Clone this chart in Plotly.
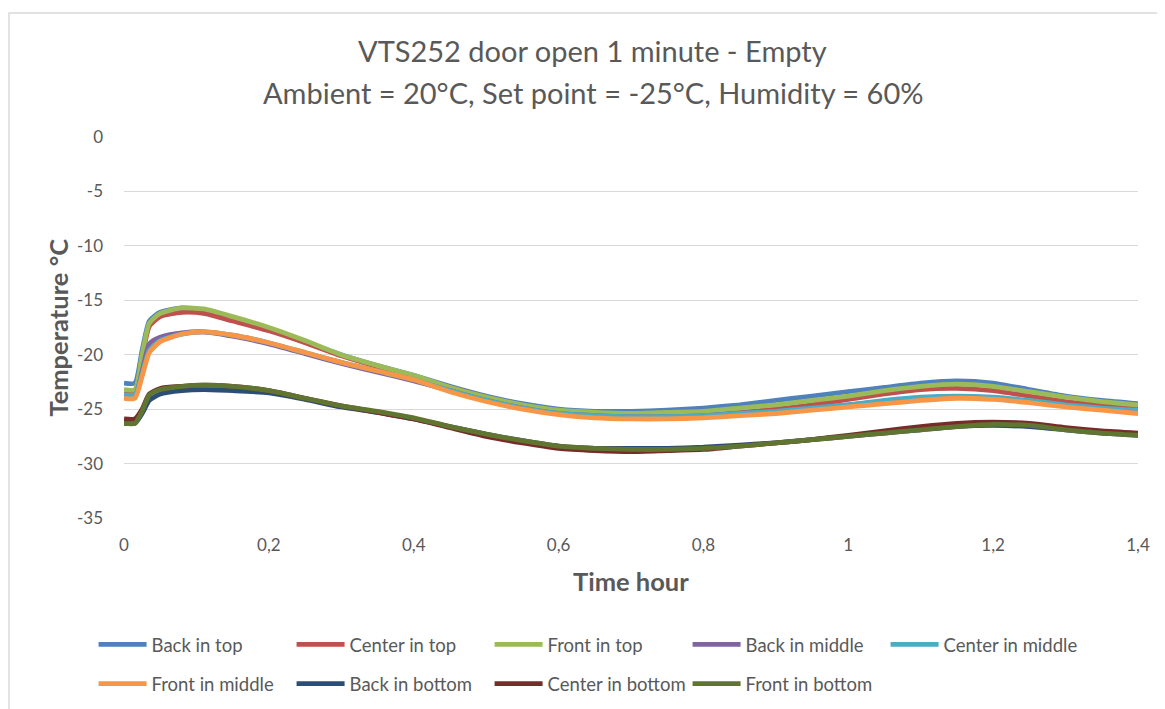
import plotly.graph_objects as go

time_h = [0, 0.015, 0.025, 0.035, 0.05, 0.08, 0.11, 0.15, 0.2, 0.25, 0.3, 0.35, 0.4, 0.45,
          0.5, 0.55, 0.6, 0.65, 0.7, 0.75, 0.8, 0.85, 0.9, 0.95, 1.0, 1.05, 1.1, 1.15,
          1.2, 1.25, 1.3, 1.35, 1.4]

back_top = [-22.6, -22.6, -19.6, -16.9, -16.1, -15.7, -15.9, -16.6, -17.6, -18.8, -20.0, -21.0, -21.9,
            -22.9, -23.8, -24.5, -25.0, -25.2, -25.2, -25.1, -24.9, -24.6, -24.2, -23.8, -23.4,
            -23.0, -22.6, -22.4, -22.6, -23.2, -23.8, -24.2, -24.5]
center_top = [-23.3, -23.3, -20.3, -17.4, -16.5, -16.1, -16.2, -16.9, -17.8, -18.9, -20.1, -21.1, -22.0,
              -23.0, -23.9, -24.7, -25.2, -25.5, -25.6, -25.6, -25.5, -25.3, -25.0, -24.6, -24.1,
              -23.6, -23.2, -23.1, -23.3, -23.8, -24.3, -24.6, -24.9]
front_top = [-23.2, -23.2, -20.0, -17.1, -16.2, -15.7, -15.8, -16.5, -17.5, -18.7, -20.0, -21.0, -21.9,
             -23.0, -23.9, -24.6, -25.1, -25.3, -25.4, -25.3, -25.2, -24.9, -24.6, -24.2, -23.8,
             -23.3, -22.9, -22.7, -22.9, -23.4, -23.9, -24.3, -24.6]
back_middle = [-23.8, -23.8, -21.5, -19.0, -18.4, -18.0, -17.9, -18.3, -19.0, -19.9, -20.8, -21.6, -22.4,
               -23.3, -24.2, -24.9, -25.4, -25.6, -25.7, -25.7, -25.6, -25.4, -25.2, -24.9, -24.6,
               -24.3, -24.0, -23.9, -24.0, -24.3, -24.7, -25.0, -25.2]
center_middle = [-23.7, -23.7, -21.8, -19.6, -18.7, -18.1, -17.9, -18.2, -18.9, -19.8, -20.7, -21.5, -22.3,
                 -23.3, -24.2, -24.9, -25.4, -25.6, -25.7, -25.7, -25.6, -25.4, -25.2, -24.9, -24.6,
                 -24.2, -23.9, -23.8, -23.9, -24.2, -24.6, -24.9, -25.1]
front_middle = [-24.0, -24.0, -22.0, -19.8, -18.8, -18.1, -17.9, -18.2, -18.9, -19.8, -20.7, -21.5, -22.3,
                -23.4, -24.3, -25.0, -25.5, -25.8, -25.9, -25.9, -25.8, -25.6, -25.4, -25.1, -24.8,
                -24.5, -24.2, -24.0, -24.1, -24.4, -24.8, -25.1, -25.4]
back_bottom = [-26.3, -26.3, -25.4, -24.2, -23.6, -23.3, -23.2, -23.3, -23.5, -24.1, -24.8, -25.3, -25.9,
               -26.6, -27.3, -27.9, -28.4, -28.6, -28.6, -28.6, -28.5, -28.3, -28.1, -27.8, -27.5,
               -27.2, -26.9, -26.6, -26.5, -26.6, -26.9, -27.2, -27.4]
center_bottom = [-25.9, -25.9, -25.0, -23.6, -23.1, -22.9, -22.8, -22.9, -23.3, -24.0, -24.7, -25.3, -25.9,
                 -26.7, -27.5, -28.1, -28.6, -28.8, -28.9, -28.8, -28.7, -28.4, -28.1, -27.8, -27.4,
                 -27.0, -26.6, -26.3, -26.2, -26.3, -26.7, -27.0, -27.2]
front_bottom = [-26.3, -26.3, -25.2, -23.7, -23.2, -22.9, -22.8, -22.9, -23.3, -24.0, -24.7, -25.2, -25.8,
                -26.6, -27.3, -27.9, -28.4, -28.6, -28.7, -28.7, -28.6, -28.4, -28.1, -27.8, -27.5,
                -27.2, -26.9, -26.6, -26.4, -26.5, -26.9, -27.2, -27.4]

series_names = ["Back in top", "Center in top", "Front in top", "Back in middle", "Center in middle",
                "Front in middle", "Back in bottom", "Center in bottom", "Front in bottom"]
series_values = [back_top, center_top, front_top, back_middle, center_middle,
                 front_middle, back_bottom, center_bottom, front_bottom]
colors = ["#4F81BD", "#C0504D", "#9BBB59", "#8064A2", "#4BACC6",
          "#F79646", "#2C4D75", "#772C2A", "#5F7530"]

y_ticks = [0, -5, -10, -15, -20, -25, -30, -35]
y_tick_labels = ["0", "-5", "-10", "-15", "-20", "-25", "-30", "-35"]
x_ticks = [0, 0.2, 0.4, 0.6, 0.8, 1.0, 1.2, 1.4]
x_tick_labels = ["0", "0,2", "0,4", "0,6", "0,8", "1", "1,2", "1,4"]

FONT = "Lato"
GRAY = "#595959"

fig = go.Figure()
for i, (name, vals, col) in enumerate(zip(series_names, series_values, colors)):
    fig.add_trace(go.Scatter(
        x=time_h, y=vals, name=name, mode="lines",
        line=dict(color=col, width=4.8, shape="spline", smoothing=0.6),
        legend="legend" if i < 5 else "legend2",
    ))

legend_common = dict(orientation="h", xanchor="left", yanchor="middle",
                     itemwidth=48, entrywidth=135, entrywidthmode="pixels",
                     font=dict(size=18.5, color=GRAY, family=FONT),
                     bgcolor="rgba(0,0,0,0)")

# page body has an 8px margin, so the figure is sized to fit the window exactly
fig.update_layout(
    width=1157, height=701,
    margin=dict(l=116, r=27, t=129, b=191, autoexpand=False),
    paper_bgcolor="white", plot_bgcolor="white",
    font=dict(family=FONT, color=GRAY, size=17),
    xaxis=dict(range=[0, 1.4], tickvals=x_ticks, ticktext=x_tick_labels, showgrid=False,
               zeroline=False, showline=False, ticks="", ticklabelstandoff=15,
               tickfont=dict(size=17, color=GRAY)),
    yaxis=dict(range=[-35, 0], tickvals=y_ticks, ticktext=y_tick_labels, showgrid=True,
               gridcolor="#D9D9D9", gridwidth=1, zeroline=False, showline=False, ticks="",
               ticklabelstandoff=20, tickfont=dict(size=17, color=GRAY)),
    legend=dict(x=-0.0300, y=-0.333, **legend_common),
    legend2=dict(x=-0.0300, y=-0.436, **legend_common),
    showlegend=True,
)

fig.add_annotation(text="VTS252 door open 1 minute - Empty", xref="paper", yref="paper",
                   x=0.4625, y=1.228, xanchor="center", yanchor="middle", showarrow=False,
                   font=dict(size=29, color=GRAY, family=FONT))
fig.add_annotation(text="Ambient = 20°C, Set point = -25°C, Humidity = 60%", xref="paper", yref="paper",
                   x=0.4625, y=1.1155, xanchor="center", yanchor="middle", showarrow=False,
                   font=dict(size=29, color=GRAY, family=FONT))
fig.add_annotation(text="<b>Temperature °C</b>", xref="paper", yref="paper", x=-0.066, y=0.5,
                   xanchor="center", yanchor="middle", textangle=-90, showarrow=False,
                   font=dict(size=25.5, color=GRAY, family=FONT))
fig.add_annotation(text="<b>Time hour</b>", xref="paper", yref="paper", x=0.5, y=-0.165,
                   xanchor="center", yanchor="middle", showarrow=False,
                   font=dict(size=25.5, color=GRAY, family=FONT))

fig.add_shape(type="rect", xref="paper", yref="paper", x0=-0.1134, y0=1.3255, x1=1.06, y1=-0.6,
              line=dict(color="#D9D9D9", width=1.5), layer="below")

fig.write_html("out.html")
